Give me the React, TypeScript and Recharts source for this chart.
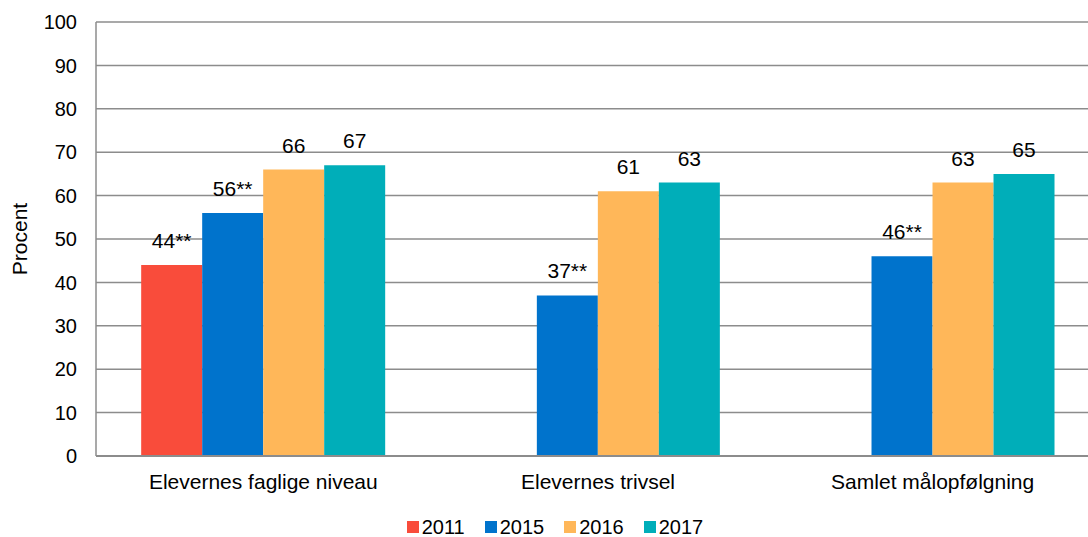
import React from "react"
import { BarChart, Bar, XAxis, YAxis, CartesianGrid, Legend, LabelList } from "recharts"

const categories = ["Elevernes faglige niveau", "Elevernes trivsel", "Samlet målopfølgning"]
const years = ["2011", "2015", "2016", "2017"]
const values2011 = [44, null, null]
const values2015 = [56, 37, 46]
const values2016 = [66, 61, 63]
const values2017 = [67, 63, 65]
const labels2011 = ["44**", "", ""]
const labels2015 = ["56**", "37**", "46**"]
const labels2016 = ["66", "61", "63"]
const labels2017 = ["67", "63", "65"]
const yTicks = [0, 10, 20, 30, 40, 50, 60, 70, 80, 90, 100]

const colors: Record<string, string> = {
  "2011": "#F94C3B",
  "2015": "#0073CC",
  "2016": "#FFB759",
  "2017": "#00AEB9",
}

const data = categories.map((name, i) => ({
  name,
  "2011": values2011[i],
  "2015": values2015[i],
  "2016": values2016[i],
  "2017": values2017[i],
  l2011: labels2011[i],
  l2015: labels2015[i],
  l2016: labels2016[i],
  l2017: labels2017[i],
}))

const font = "Liberation Sans, Arial, sans-serif"

const CustomLegend = () => (
  <div style={{ height: 40, display: "flex", justifyContent: "center", alignItems: "flex-end", paddingLeft: 10, fontFamily: font }}>
    {years.map((y, i) => (
      <div key={y} style={{ display: "flex", alignItems: "center", marginRight: i < years.length - 1 ? 20 : 0, lineHeight: "20px" }}>
        <div style={{ width: 12, height: 12, backgroundColor: colors[y], marginRight: 3 }}></div>
        <span style={{ fontSize: 20, color: "#000" }}>{y}</span>
      </div>
    ))}
  </div>
)

export default function App() {
  return (
    <div style={{ position: "absolute", left: 0, top: 0 }}>
      <BarChart
        width={1110}
        height={537}
        data={data}
        margin={{ top: 22, right: 10, bottom: 0, left: 0 }}
        barCategoryGap="13.5%"
        barGap={0}
      >
        <CartesianGrid vertical={false} stroke="#8c8c8c" strokeWidth={1.5} />
        <XAxis
          dataKey="name"
          height={41}
          tickLine={false}
          tickSize={0}
          tickMargin={18}
          axisLine={{ stroke: "#8c8c8c", strokeWidth: 2 }}
          tick={{ fontSize: 21, fill: "#000", fontFamily: font }}
        />
        <YAxis
          width={96}
          domain={[0, 100]}
          ticks={yTicks}
          interval={0}
          tickLine={false}
          tickSize={0}
          tickMargin={19}
          axisLine={{ stroke: "#8c8c8c", strokeWidth: 1.5 }}
          tick={{ fontSize: 20, fill: "#000", fontFamily: font }}
          label={{
            value: "Procent",
            angle: -90,
            position: "insideLeft",
            offset: 20,
            style: { fontSize: 21, fill: "#000", fontFamily: font, textAnchor: "middle" },
          }}
        />
        <Legend verticalAlign="bottom" height={40} content={<CustomLegend />} />
        {years.map((y) => (
          <Bar key={y} dataKey={y} fill={colors[y]} isAnimationActive={false}>
            <LabelList
              dataKey={"l" + y}
              position="top"
              offset={17}
              style={{ fontSize: 21, fill: "#000", fontFamily: font }}
            />
          </Bar>
        ))}
      </BarChart>
    </div>
  )
}
